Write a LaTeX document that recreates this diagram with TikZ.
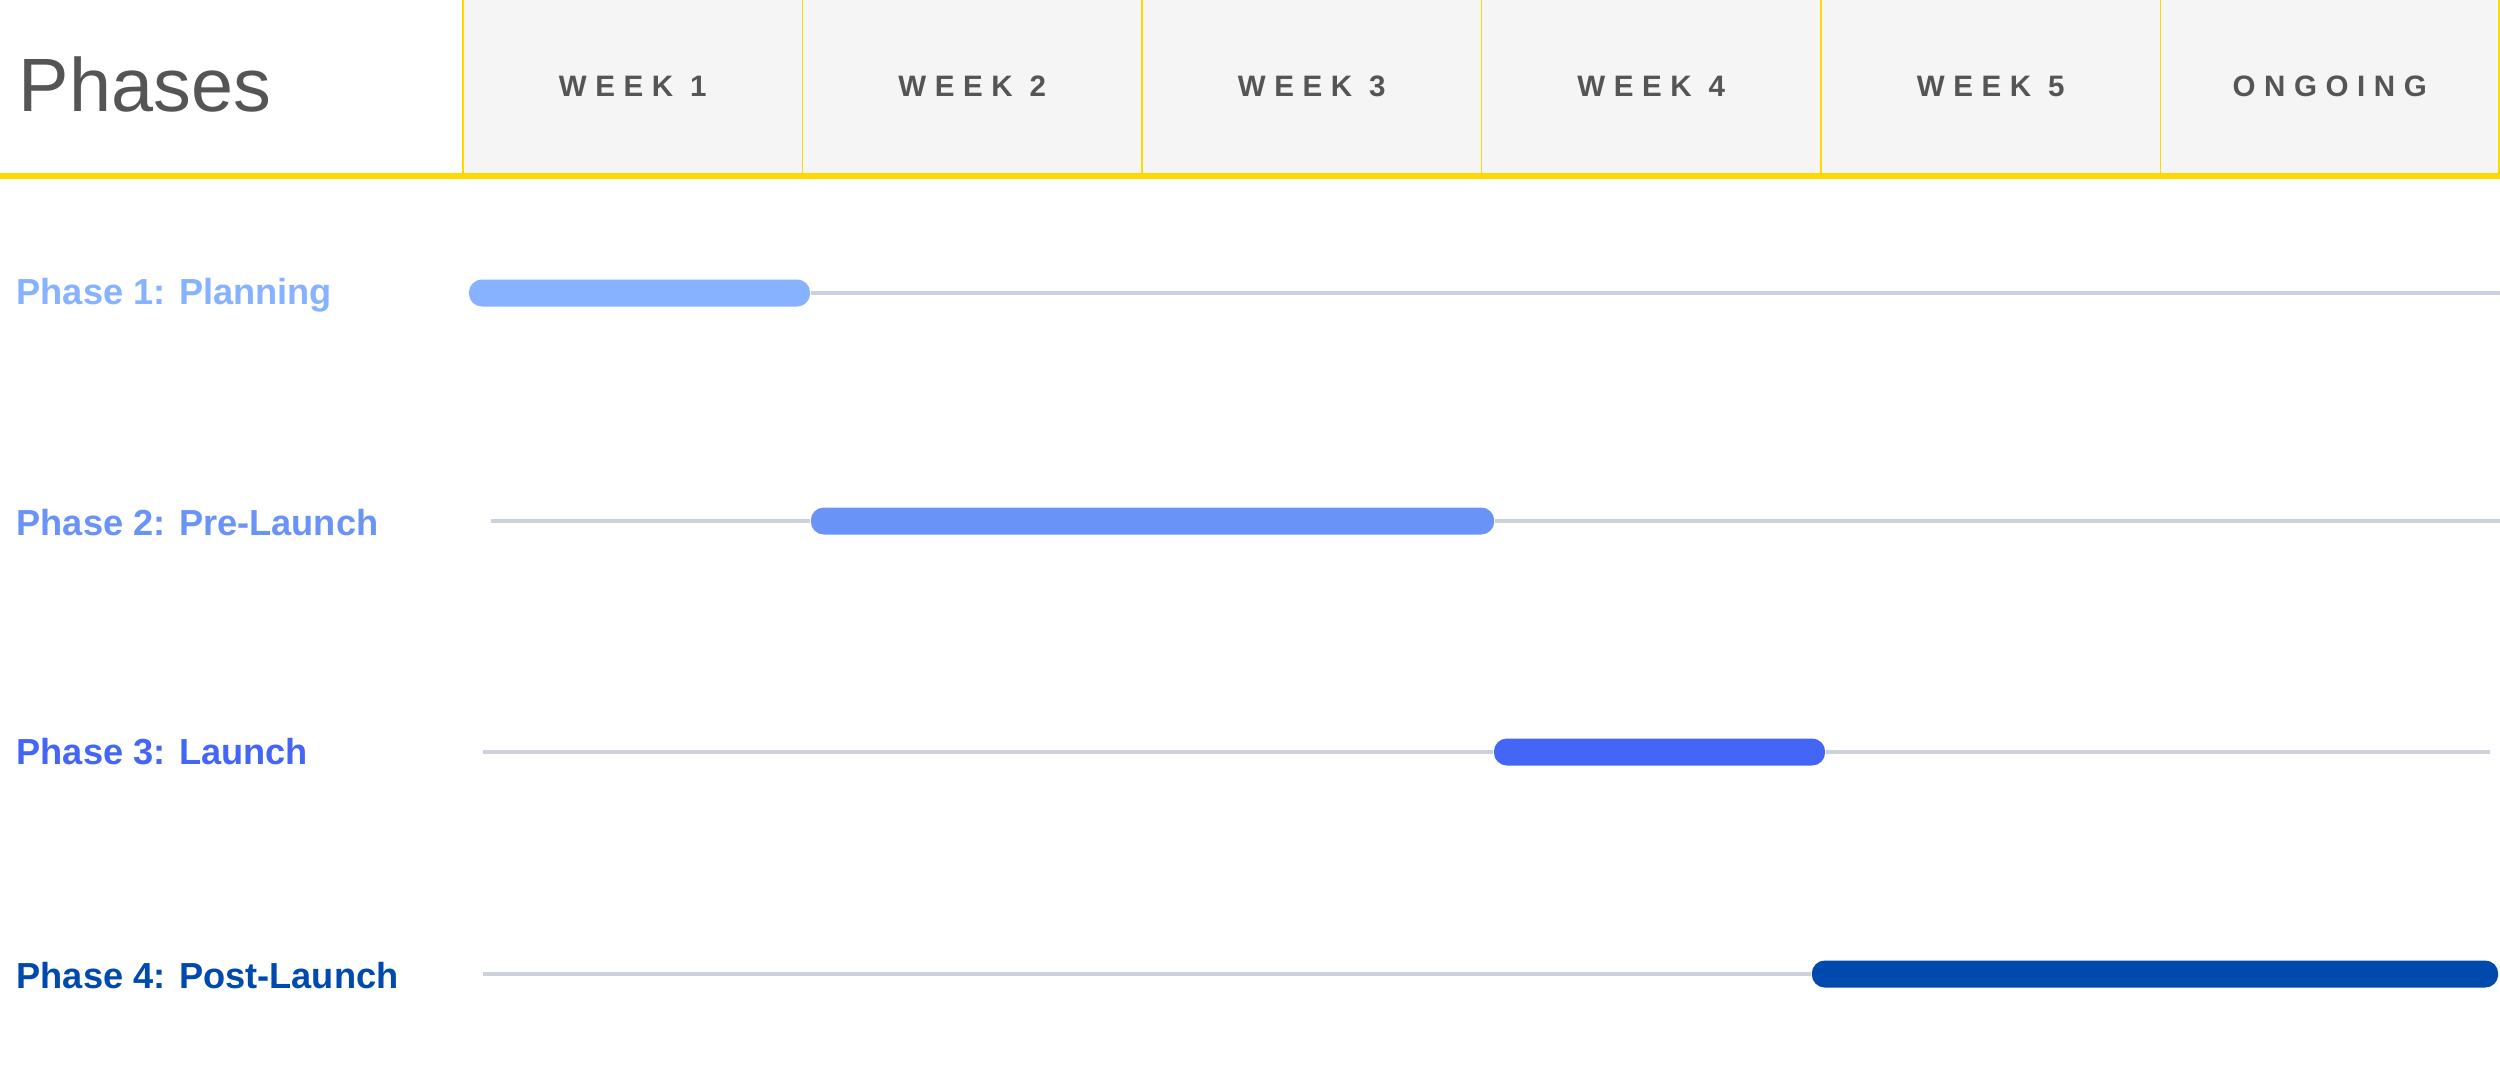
\documentclass[tikz,border=0pt]{standalone}
\usepackage{fontspec}
\setmainfont{Liberation Sans}
\newfontfamily\weekfont[LetterSpace=29]{Liberation Sans}
\definecolor{hdrfill}{HTML}{F5F5F5}
\definecolor{hdrline}{HTML}{FFD800}
\definecolor{hdrtext}{HTML}{555555}
\definecolor{track}{HTML}{CDD1DB}
\definecolor{cA}{HTML}{86B2FF}
\definecolor{cB}{HTML}{6A93F8}
\definecolor{cC}{HTML}{4466F7}
\definecolor{cD}{HTML}{004AAD}
\tikzset{
  cell/.style={rectangle, fill=hdrfill, draw=hdrline, line width=0.5pt, minimum width=3.395cm, minimum height=1.80cm, inner sep=0pt, anchor=north west},
  weeklbl/.style={font=\weekfont\bfseries\fontsize{8.4}{10}\selectfont, text=hdrtext},
  phaselbl/.style={font=\bfseries\fontsize{10.3}{12}\selectfont, anchor=west, inner sep=0pt},
  bar/.style={rectangle, rounded corners=0.13cm, minimum height=0.27cm, inner sep=0pt, draw=none},
  trackline/.style={draw=track, line width=0.9pt}
}
\begin{document}
\begin{tikzpicture}[x=0.01cm,y=-0.01cm]
\useasboundingbox (0,0) rectangle (2500,1087);
\fill[white] (0,0) rectangle (2500,1087);
% header cells
\node[cell] (h1) at (462,-5) {};
\node[cell] (h2) at (801.5,-5) {};
\node[cell] (h3) at (1141,-5) {};
\node[cell] (h4) at (1480.5,-5) {};
\node[cell] (h5) at (1820,-5) {};
\node[cell, minimum width=3.385cm] (h6) at (2159.5,-5) {};
\node[weeklbl] at ([yshift=-0.005cm]h1.center) {WEEK 1};
\node[weeklbl] at ([yshift=-0.005cm]h2.center) {WEEK 2};
\node[weeklbl] at ([yshift=-0.005cm]h3.center) {WEEK 3};
\node[weeklbl] at ([yshift=-0.005cm]h4.center) {WEEK 4};
\node[weeklbl] at ([yshift=-0.005cm]h5.center) {WEEK 5};
\node[weeklbl] at ([yshift=-0.005cm]h6.center) {ONGOING};
\node[anchor=base west, inner sep=0pt, text=hdrtext, font=\fontsize{21.5}{26}\selectfont] (title) at (18,111) {Phases};
\fill[hdrline] (0,173) rectangle (2500,179);
% rows
\coordinate (t2s) at (491,521);
\coordinate (t3s) at (483,752);
\coordinate (t3e) at (2490,752);
\coordinate (t4s) at (483,974);
\coordinate (t1e) at (2500,293);
\coordinate (t2e) at (2500,521);
\node[bar, fill=cA, minimum width=3.41cm] (b1) at (639.5,293) {};
\node[bar, fill=cB, minimum width=6.83cm] (b2) at (1152.5,521) {};
\node[bar, fill=cC, minimum width=3.31cm] (b3) at (1659.5,752) {};
\node[bar, fill=cD, minimum width=6.86cm] (b4) at (2155,974) {};
\draw[trackline] (b1.east) -- (t1e);
\draw[trackline] (t2s) -- (b2.west);
\draw[trackline] (b2.east) -- (t2e);
\draw[trackline] (t3s) -- (b3.west);
\draw[trackline] (b3.east) -- (t3e);
\draw[trackline] (t4s) -- (b4.west);
\node[phaselbl, text=cA] (p1) at (16,295) {Phase 1: Planning};
\node[phaselbl, text=cB] (p2) at (16,523) {Phase 2: Pre-Launch};
\node[phaselbl, text=cC] (p3) at (16,752) {Phase 3: Launch};
\node[phaselbl, text=cD] (p4) at (16,976) {Phase 4: Post-Launch};
\end{tikzpicture}
\end{document}
